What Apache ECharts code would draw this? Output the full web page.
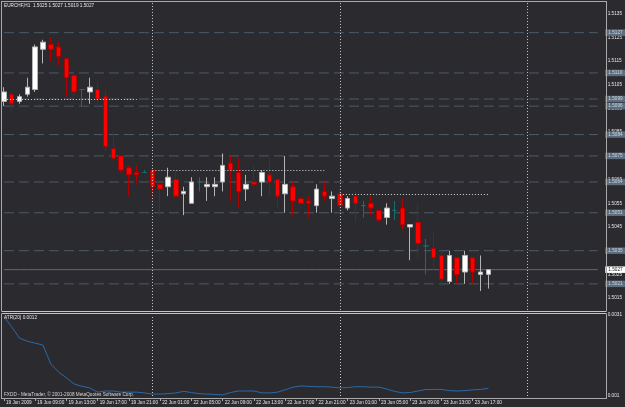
<!DOCTYPE html>
<html>
<head>
<meta charset="utf-8">
<script src="https://cdn.jsdelivr.net/npm/echarts@6/dist/echarts.min.js"></script>
<style>
  html, body { margin: 0; padding: 0; background: #2b2a2e; }
  #chart { width: 625px; height: 407px; }
</style>
</head>
<body>
<div id="chart"></div>
<script>
// EURCHF H1, 19 Jun 2009 05:00 .. 23 Jun 19:00 (plus empty future slots)
const symbol = 'EURCHF,H1'
const firstLabel = '19 Jun 2009'
const sessions = [['19 Jun', 5, 23], ['22 Jun', 0, 23], ['23 Jun', 0, 23], ['24 Jun', 0, 9]]

const open = [
  1.5098, 1.5101, 1.5098, 1.5101, 1.5103, 1.5120, 1.5122, 1.5121, 1.5116, 1.5109,
  1.5103, 1.5102, 1.5103, 1.5100, 1.5078, 1.5075, 1.5070, 1.5068, 1.5068, 1.5069,
  1.5063, 1.5062, 1.5065, 1.5059, 1.5055, 1.5064, 1.5062, 1.5062, 1.5064, 1.5072,
  1.5068, 1.5061, 1.5064, 1.5064, 1.5067, 1.5065, 1.5059, 1.5062, 1.5057, 1.5056,
  1.5054, 1.5060, 1.5057, 1.5059, 1.5053, 1.5058, 1.5054, 1.5055, 1.5052, 1.5049,
  1.5052, 1.5053, 1.5045, 1.5047, 1.5037, 1.5036, 1.5033, 1.5022, 1.5032, 1.5026,
  1.5032, 1.5025, 1.5025
]
const high = [
  1.5104, 1.5102, 1.5101, 1.5108, 1.5122, 1.5124, 1.5125, 1.5123, 1.5116, 1.5109,
  1.5103, 1.5108, 1.5106, 1.5103, 1.5085, 1.5075, 1.5071, 1.5071, 1.5069, 1.5069,
  1.5063, 1.5070, 1.5069, 1.5062, 1.5066, 1.5066, 1.5066, 1.5066, 1.5076, 1.5075,
  1.5074, 1.5067, 1.5071, 1.5069, 1.5074, 1.5065, 1.5075, 1.5064, 1.5057, 1.5058,
  1.5063, 1.5064, 1.5060, 1.5061, 1.5058, 1.5060, 1.5056, 1.5058, 1.5052, 1.5055,
  1.5056, 1.5057, 1.5046, 1.5055, 1.5040, 1.5043, 1.5035, 1.5035, 1.5032, 1.5035,
  1.5032, 1.5033, 1.5027
]
const low = [
  1.5096, 1.5093, 1.5097, 1.5100, 1.5102, 1.5114, 1.5115, 1.5113, 1.5100, 1.5100,
  1.5096, 1.5097, 1.5096, 1.5077, 1.5073, 1.5068, 1.5058, 1.5063, 1.5068, 1.5058,
  1.5050, 1.5058, 1.5058, 1.5050, 1.5055, 1.5060, 1.5056, 1.5058, 1.5060, 1.5056,
  1.5053, 1.5056, 1.5062, 1.5058, 1.5058, 1.5053, 1.5051, 1.5050, 1.5055, 1.5049,
  1.5051, 1.5056, 1.5051, 1.5052, 1.5052, 1.5047, 1.5049, 1.5050, 1.5047, 1.5046,
  1.5048, 1.5044, 1.5031, 1.5032, 1.5025, 1.5027, 1.5020, 1.5021, 1.5021, 1.5021,
  1.5021, 1.5018, 1.5019
]
const close = [
  1.5102, 1.5097, 1.5100, 1.5104, 1.5121, 1.5123, 1.5120, 1.5117, 1.5108, 1.5102,
  1.5103, 1.5104, 1.5099, 1.5079, 1.5074, 1.5069, 1.5067, 1.5067, 1.5068, 1.5062,
  1.5061, 1.5066, 1.5058, 1.5060, 1.5064, 1.5064, 1.5063, 1.5063, 1.5071, 1.5069,
  1.5060, 1.5063, 1.5063, 1.5068, 1.5064, 1.5058, 1.5063, 1.5056, 1.5055, 1.5055,
  1.5061, 1.5058, 1.5058, 1.5054, 1.5057, 1.5055, 1.5054, 1.5053, 1.5048, 1.5053,
  1.5052, 1.5046, 1.5046, 1.5038, 1.5037, 1.5032, 1.5023, 1.5033, 1.5025, 1.5033,
  1.5026, 1.5026, 1.5027
]
const atr = [
  0.00306, 0.00279, 0.00250, 0.00242, 0.00237, 0.00232, 0.00183, 0.00162, 0.00147, 0.00131,
  0.00125, 0.00121, 0.00110, 0.00113, 0.00113, 0.00110, 0.00110, 0.00110, 0.00108, 0.00105,
  0.00105, 0.00106, 0.00108, 0.00112, 0.00109, 0.00106, 0.00105, 0.00104, 0.00103, 0.00109,
  0.00113, 0.00113, 0.00113, 0.00108, 0.00108, 0.00110, 0.00116, 0.00123, 0.00126, 0.00125,
  0.00124, 0.00124, 0.00123, 0.00121, 0.00122, 0.00124, 0.00124, 0.00123, 0.00123, 0.00118,
  0.00112, 0.00108, 0.00109, 0.00113, 0.00117, 0.00117, 0.00117, 0.00114, 0.00113, 0.00114,
  0.00116, 0.00117, 0.00120
]

// horizontal line objects drawn on the chart
const levels = [1.5127, 1.5110, 1.5099, 1.5096, 1.5084, 1.5075, 1.5064, 1.5051, 1.5035, 1.5021]
// daily open lines
const dayOpenPrice = [1.5099, 1.5069, 1.5059]
const dayOpenFrom = [0, 19, 43]
const dayOpenTo = [17, 41, 62]
// period separators
const dayStarts = ['22 Jun 00:00', '23 Jun 00:00', '24 Jun 00:00']
// indicator axis labels
const atrMin = 0.001
const atrMax = 0.0031

const categories = []
sessions.forEach(([day, from, to]) => {
  for (let h = from; h <= to; h++) {
    categories.push(day + ' ' + String(h).padStart(2, '0') + ':00')
  }
})

const last = close.length - 1
const lastPrice = close[last]
const candles = open.map((o, i) => [o, close[i], low[i], high[i]])

const font = 'Liberation Sans, Arial, sans-serif'
const fs = 4.7
const bg = '#2b2a2e'
const frame = '#a9a9a9'

const sepLines = dayStarts.map(d => ({
  xAxis: d,
  lineStyle: { color: '#c8c8c8', type: [1, 2], width: 1 },
  label: { show: false }
}))

const openLines = dayOpenPrice.map((p, i) => [
  { coord: [categories[dayOpenFrom[i]], p], lineStyle: { color: '#d8d8d8', type: [1, 2], width: 1 }, label: { show: false } },
  { coord: [categories[dayOpenTo[i]], p] }
])

// one flat line series per horizontal level, with its price tag at the right
const hLine = (v, color, type, fg, back, z) => ({
  type: 'line',
  xAxisIndex: 0,
  yAxisIndex: 0,
  data: categories.map(() => v),
  symbol: 'none',
  silent: true,
  z: z,
  lineStyle: { color: color, type: type, width: 1 },
  endLabel: {
    show: true,
    distance: 7.5,
    formatter: p => Number(p.value).toFixed(4),
    color: fg,
    backgroundColor: back,
    fontSize: fs,
    fontFamily: font,
    padding: [1, 4, 0.5, 3]
  }
})

const levelSeries = levels.map(v => hLine(v, '#4d5c6b', [10, 5], '#cfd6de', '#5c6d80', 1))
const priceSeries = hLine(lastPrice, '#5e6a74', 'solid', '#1a1a1a', '#ffffff', 2)

const chart = echarts.init(document.getElementById('chart'), null, { renderer: 'canvas' })
chart.setOption({
  backgroundColor: bg,
  animation: false,
  textStyle: { fontFamily: font },
  grid: [
    { left: -2.735, top: 1.85, width: 606, height: 308.1 },
    { left: -2.735, top: 315, width: 606, height: 81 }
  ],
  xAxis: [
    { type: 'category', data: categories, gridIndex: 0, show: false },
    {
      type: 'category',
      data: categories,
      gridIndex: 1,
      offset: 2,
      axisLine: { show: false },
      axisTick: {
        show: true,
        alignWithLabel: true,
        interval: i => i % 4 === 0 && i <= last,
        length: 3,
        lineStyle: { color: frame }
      },
      axisLabel: {
        interval: i => i % 4 === 0 && i <= last,
        formatter: (v, i) => (i === 0 ? firstLabel : v),
        align: 'left',
        padding: [0, 0, 0, 2],
        margin: 2,
        color: '#e6e6e6',
        fontSize: fs,
        fontFamily: font
      },
      splitLine: { show: false }
    }
  ],
  yAxis: [
    {
      type: 'value',
      gridIndex: 0,
      position: 'right',
      min: 1.5010,
      max: 1.5140,
      interval: 0.0005,
      axisLine: { show: false },
      axisTick: { show: false },
      splitLine: { show: false },
      axisLabel: {
        margin: 6,
        color: '#e6e6e6',
        fontSize: fs,
        fontFamily: font,
        formatter: v => (Math.round(v * 10000) % 10 === 5 ? v.toFixed(4) : '')
      }
    },
    {
      type: 'value',
      gridIndex: 1,
      position: 'right',
      min: atrMin,
      max: atrMax,
      interval: atrMax - atrMin,
      axisLine: { show: false },
      axisTick: { show: false },
      splitLine: { show: false },
      axisLabel: {
        margin: 6,
        color: '#e6e6e6',
        fontSize: fs,
        fontFamily: font,
        formatter: v => {
          const r = +v.toFixed(5)
          return r === atrMin || r === atrMax ? String(r) : ''
        }
      }
    }
  ],
  series: [
    ...levelSeries,
    priceSeries,
    {
      name: symbol,
      type: 'candlestick',
      xAxisIndex: 0,
      yAxisIndex: 0,
      data: candles,
      barWidth: 5,
      z: 3,
      itemStyle: {
        color: '#ffffff',
        color0: '#ff0000',
        borderColor: '#b4b4b4',
        borderColor0: '#b00000',
        borderColorDoji: '#1b6d6d',
        borderWidth: 1
      },
      markLine: {
        silent: true,
        symbol: ['none', 'none'],
        animation: false,
        data: [...sepLines, ...openLines]
      }
    },
    {
      name: 'ATR(20)',
      type: 'line',
      xAxisIndex: 1,
      yAxisIndex: 1,
      data: atr,
      showSymbol: false,
      lineStyle: { color: '#2c6aa8', width: 1 },
      markLine: {
        silent: true,
        symbol: ['none', 'none'],
        animation: false,
        data: sepLines
      }
    }
  ],
  graphic: [
    { type: 'line', z: 50, shape: { x1: 1.5, y1: 1.5, x2: 606.5, y2: 1.5 }, style: { stroke: frame, lineWidth: 1 } },
    { type: 'line', z: 50, shape: { x1: 1.5, y1: 1, x2: 1.5, y2: 399 }, style: { stroke: frame, lineWidth: 1 } },
    { type: 'line', z: 50, shape: { x1: 606.5, y1: 1, x2: 606.5, y2: 399 }, style: { stroke: frame, lineWidth: 1 } },
    { type: 'line', z: 50, shape: { x1: 1.5, y1: 398.5, x2: 606.5, y2: 398.5 }, style: { stroke: frame, lineWidth: 1 } },
    { type: 'rect', z: 50, shape: { x: 1, y: 311, width: 606, height: 3 }, style: { fill: bg } },
    { type: 'line', z: 51, shape: { x1: 1.5, y1: 311.5, x2: 606.5, y2: 311.5 }, style: { stroke: '#c4c4c4', lineWidth: 1 } },
    { type: 'line', z: 51, shape: { x1: 1.5, y1: 313.5, x2: 606.5, y2: 313.5 }, style: { stroke: '#c4c4c4', lineWidth: 1 } },
    {
      type: 'text', z: 52, left: 4, top: 3,
      style: {
        text: symbol + '  ' + [open[last], high[last], low[last], close[last]].map(v => v.toFixed(4)).join(' '),
        fill: '#e6e6e6', font: fs + 'px ' + font
      }
    },
    {
      type: 'text', z: 52, left: 4, top: 315,
      style: { text: 'ATR(20) ' + atr[last].toFixed(4), fill: '#e6e6e6', font: fs + 'px ' + font }
    },
    {
      type: 'text', z: 52, left: 4, top: 392,
      style: { text: 'FXDD - MetaTrader, © 2001-2008 MetaQuotes Software Corp.', fill: '#d6d6d6', font: fs + 'px ' + font }
    }
  ]
})
</script>
</body>
</html>
